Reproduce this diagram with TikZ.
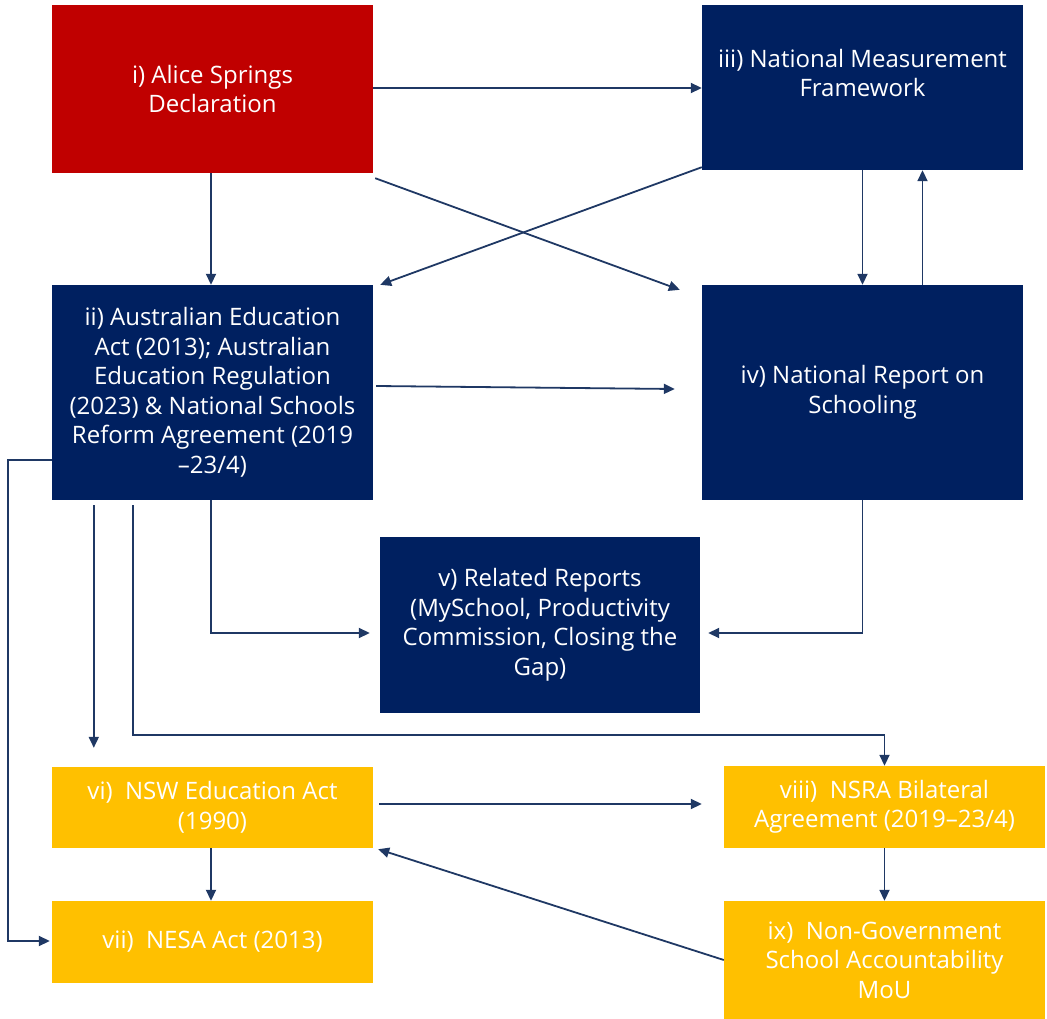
\documentclass[tikz,border=0pt]{standalone}
\usepackage{fontspec}
\setmainfont{Open Sans}
\usetikzlibrary{arrows.meta,calc}
\definecolor{cred}{HTML}{C00000}
\definecolor{cnavy}{HTML}{002060}
\definecolor{cyel}{HTML}{FFC000}
\definecolor{carr}{HTML}{1F3864}
\begin{document}
\begin{tikzpicture}[x=1pt,y=-1pt,
  box/.style={rectangle, draw=none, minimum width=321pt, inner sep=0pt, text=white, align=center, font=\fontsize{24}{29.5}\selectfont},
  redbox/.style={box, fill=cred},
  navybox/.style={box, fill=cnavy},
  yelbox/.style={box, fill=cyel},
  boxtext/.style={text=white, align=center, inner sep=0pt, font=\fontsize{24}{29.5}\selectfont},
  arr/.style={draw=carr, line width=1.8pt, -{Triangle[length=11pt,width=10pt]}}
]
\useasboundingbox (0,0) rectangle (1047,1019);

\node[redbox, minimum height=168pt] (i) at (212.5,89) {i) Alice Springs\\Declaration};
\node[navybox, minimum height=165pt] (iii) at (862.5,87.5) {};
\node[boxtext] (iiitext) at (862.5,73) {iii) National Measurement\\Framework};
\node[navybox, minimum height=215pt] (ii) at (212.5,392.5) {ii) Australian Education\\Act (2013); Australian\\Education Regulation\\(2023) \& National Schools\\Reform Agreement (2019\\--23/4)};
\node[navybox, minimum height=215pt] (iv) at (862.5,392.5) {iv) National Report on\\Schooling};
\node[navybox, minimum width=320pt, minimum height=176pt] (v) at (540,625) {v) Related Reports\\(MySchool, Productivity\\Commission, Closing the\\Gap)};
\node[yelbox, minimum height=81pt] (vi) at (212.5,807.5) {vi)\ \ NSW Education Act\\(1990)};
\node[yelbox, minimum height=82pt] (vii) at (212.5,942) {vii)\ \ NESA Act (2013)};
\node[yelbox, minimum height=82pt] (viii) at (884.5,807) {viii)\ \ NSRA Bilateral\\Agreement (2019--23/4)};
\node[yelbox, minimum height=118pt] (ix) at (884.5,960) {ix)\ \ Non-Government\\School Accountability\\MoU};

% connectors
\draw[arr] ($(i.east)+(0,-1)$) -- ($(i.east -| iii.west)+(0,-1)$);
\draw[arr] ($(i.south)+(-1.5,0)$) -- ($(ii.north)+(-1.5,0)$);
\draw[arr] ($(i.south east)+(2,5)$) -- ($(iv.north west)+(-22,5)$);
\draw[arr] ($(iii.south west)+(0,-3)$) -- ($(ii.north east)+(7,0)$);
\draw[arr] (iii.south) -- (iv.north);
\draw[arr] ($(iv.north)+(60,0)$) -- ($(iii.south)+(60,0)$);
\draw[arr] ($(ii.east)+(3,-6.5)$) -- ($(iv.west)+(-27,-3.5)$);
\draw[arr] ($(ii.south)+(-1.5,0)$) |- ($(v.west)+(-10,8)$);
\draw[arr] (iv.south) |- ($(v.east)+(8,8)$);
\draw[arr] ($(ii.south west)+(42,5)$) -- ($(vi.north west)+(42,-19)$);
\draw[arr] ($(ii.south west)+(81,5)$) |- ($(viii.north)+(0,-31)$) -- (viii.north);
\draw[arr] ($(ii.west)+(0,67.5)$) -- ++(-44,0) |- ($(vii.west)+(-2,-1)$);
\draw[arr] ($(vi.south)+(-1.5,0)$) -- ($(vii.north)+(-1.5,0)$);
\draw[arr] ($(vi.east)+(6,-3.5)$) -- ($(viii.west)+(-22,-3)$);
\draw[arr] (viii.south) -- (ix.north);
\draw[arr] (ix.west) -- ($(vi.south east)+(5,1)$);
\end{tikzpicture}
\end{document}
